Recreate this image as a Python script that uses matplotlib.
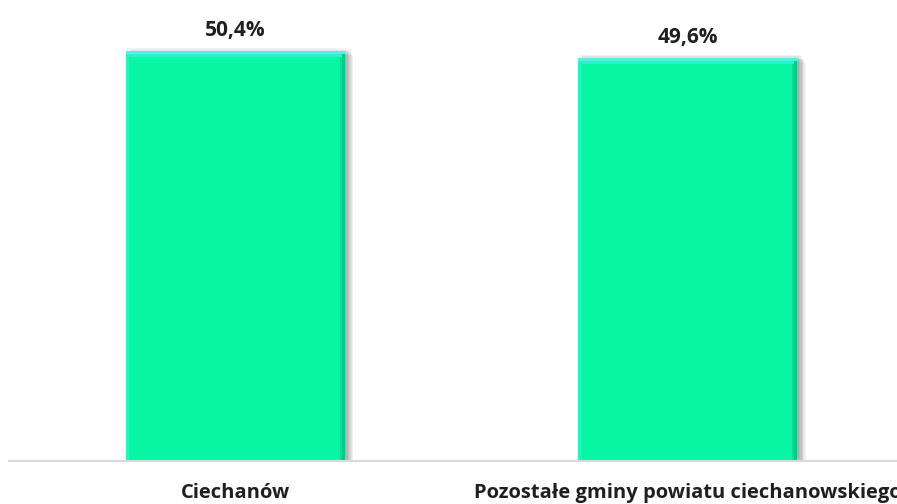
import matplotlib
matplotlib.use("Agg")
import matplotlib.pyplot as plt
import matplotlib.patheffects as pe

categories = ["Ciechanów", "Pozostałe gminy powiatu ciechanowskiego"]
values = [50.4, 49.6]
value_labels = ["50,4%", "49,6%"]

W, H, DPI = 897, 504, 100
fig = plt.figure(figsize=(W / DPI, H / DPI), dpi=DPI)
fig.patch.set_facecolor("white")

# axes run from x=9 px to past the right edge, baseline at 461 px
left_px, right_px, bottom_px, top_px = 9, 914, 461, 0
ax = fig.add_axes([left_px / W, (H - bottom_px) / H,
                   (right_px - left_px) / W, (bottom_px - top_px) / H])
ax.set_xlim(-0.5, 1.5)
ax.set_ylim(0, 56.67)

for s in ["left", "right", "top"]:
    ax.spines[s].set_visible(False)
ax.spines["bottom"].set_color("#d9d9d9")
ax.spines["bottom"].set_linewidth(1.5)
ax.spines["bottom"].set_zorder(5)
ax.set_yticks([])

x = list(range(len(categories)))
bar_w = 0.485
main_color = "#08f7a4"

# soft outer shadow built from a few offset, translucent copies
shadow = [pe.SimplePatchShadow(offset=(dx, dy), shadow_rgbFace="#000000", alpha=a)
          for dx, dy, a in [(1, 2, 0.05), (3, 1, 0.07), (4, -1, 0.08),
                            (5, -2, 0.06), (6, -3, 0.05), (2, 0, 0.06)]]

bars = ax.bar(x, values, width=bar_w, color=main_color, zorder=3,
              edgecolor="none")
for b in bars:
    b.set_path_effects(shadow + [pe.Normal()])

# bevel strips: lighter top edge, darker right edge, light left edge
px_y = 56.67 / 461.0          # data units per pixel vertically
px_x = 2.0 / (right_px - left_px)
for xi, v in zip(x, values):
    ax.bar(xi, 3 * px_y, bottom=v - 3 * px_y, width=bar_w,
           color="#52f0e6", zorder=4, edgecolor="none")
    ax.bar(xi, 3 * px_y, bottom=v - 6 * px_y, width=bar_w - 6 * px_x,
           color="#2ff3c8", zorder=4, edgecolor="none")
    ax.bar(xi + bar_w / 2 - 1.5 * px_x, v - 3 * px_y, width=3 * px_x,
           color="#05c98a", zorder=4, edgecolor="none")
    ax.bar(xi + bar_w / 2 - 4 * px_x, v - 6 * px_y, width=2 * px_x,
           color="#06e096", zorder=4, edgecolor="none")
    ax.bar(xi - bar_w / 2 + 1.5 * px_x, v - 3 * px_y, width=3 * px_x,
           color="#25f6bd", zorder=4, edgecolor="none")

for xi, v, lab in zip(x, values, value_labels):
    ax.annotate(lab, (xi, v), xytext=(0, 14.5), textcoords="offset points",
                ha="center", va="center", fontsize=15, fontweight="bold",
                family="Open Sans", color="#1f1f1f")

ax.set_xticks(x)
ax.set_xticklabels(categories, fontsize=14.5, fontweight="bold",
                   family="Open Sans", color="#1f1f1f")
ax.tick_params(axis="x", length=0, pad=16)

fig.savefig("out.png", dpi=DPI, facecolor="white")
